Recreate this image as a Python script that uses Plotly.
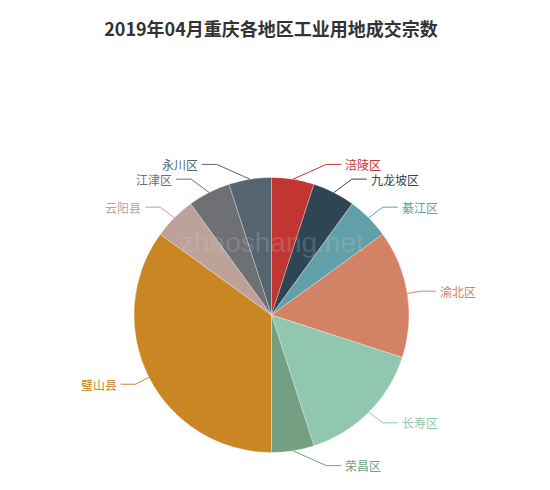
import math
import plotly.graph_objects as go

# ---- data ----
districts = ["涪陵区", "九龙坡区", "綦江区", "渝北区", "长寿区", "荣昌区", "璧山县", "云阳县", "江津区", "永川区"]
counts = [1, 1, 1, 3, 3, 1, 7, 1, 1, 1]
colors = ["#c23531", "#2f4554", "#61a0a8", "#d48265", "#91c7ae",
          "#749f83", "#ca8622", "#bda29a", "#6e7074", "#546570"]
title_text = "2019年04月重庆各地区工业用地成交宗数"

# ---- layout geometry (pixels) ----
W, H = 550, 490
CX, CY, R = 271.5, 315.0, 137.5
L1 = 15.0      # radial part of label line
L2 = 15.0      # horizontal part of label line
R_END = 166.0  # radius where horizontal line ends
LABEL_H = 14.0
FONT = "Noto Sans CJK SC, Microsoft YaHei, sans-serif"


def px(x):
    return x / W


def py(y):
    return 1 - y / H


fig = go.Figure(go.Pie(
    labels=districts, values=counts, sort=False, direction="clockwise", rotation=0,
    marker=dict(colors=colors, line=dict(color="rgba(255,255,255,0.6)", width=0.5)),
    textinfo="none", hoverinfo="label+value+percent", showlegend=False,
    domain=dict(x=[px(CX - R), px(CX + R)], y=[py(CY + R), py(CY - R)]),
))

# label layout, ECharts style
total = sum(counts)
items = []
acc = 0
for name, v, c in zip(districts, counts, colors):
    mid = (acc + v / 2) / total * 2 * math.pi
    acc += v
    sx, sy = math.sin(mid), -math.cos(mid)
    items.append(dict(name=name, color=c, ex=CX + R * sx, ey=CY + R * sy,
                      y=CY + (R + L1) * sy, dir=1 if sx >= 0 else -1))

for d in (1, -1):
    side = sorted([it for it in items if it["dir"] == d], key=lambda t: t["y"])
    last = -1e9
    for it in side:
        if it["y"] < last + LABEL_H:
            it["y"] = last + LABEL_H
        last = it["y"]
    for it in side:
        dy = abs(it["y"] - CY)
        dx = math.sqrt(max(R_END ** 2 - dy ** 2, 0))
        it["endx"] = CX + d * dx

shapes = []
annotations = []
for it in items:
    d = it["dir"]
    bx = it["endx"] - d * L2
    path = "M {} {} L {} {} L {} {}".format(
        px(it["ex"]), py(it["ey"]), px(bx), py(it["y"]), px(it["endx"]), py(it["y"]))
    shapes.append(dict(type="path", path=path, xref="paper", yref="paper",
                       line=dict(color=it["color"], width=1)))
    annotations.append(dict(x=px(it["endx"] + d * 2), y=py(it["y"]), xref="paper", yref="paper",
                            text=it["name"], showarrow=False,
                            xanchor="left" if d > 0 else "right", yanchor="middle",
                            font=dict(size=12, color=it["color"], family=FONT)))

# watermark
annotations.append(dict(x=px(272), y=py(243), xref="paper", yref="paper", text="zhaoshang.net",
                        showarrow=False, xanchor="center", yanchor="middle",
                        font=dict(size=28, color="rgba(205,205,205,0.22)", family="Arial, Liberation Sans")))

fig.update_layout(
    width=W, height=H,
    margin=dict(l=0, r=0, t=0, b=0),
    paper_bgcolor="white", plot_bgcolor="white",
    title=dict(text=title_text, x=px(271), y=py(30), xanchor="center", yanchor="middle",
               xref="paper", yref="paper",
               font=dict(size=18, color="#333333", family=FONT, weight="bold")),
    shapes=shapes, annotations=annotations,
)

fig.write_html("out.html")
